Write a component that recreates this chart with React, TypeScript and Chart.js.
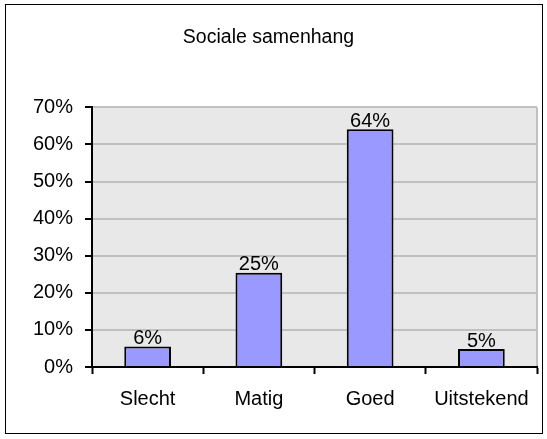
import React, { useEffect, useRef } from "react";
import { Chart, registerables } from "chart.js";

Chart.register(...registerables);

const TITLE = "Sociale samenhang";
const categories = ["Slecht", "Matig", "Goed", "Uitstekend"];
const values = [5.5, 25.4, 64.1, 4.85];
const yTicks = [0, 10, 20, 30, 40, 50, 60, 70];

const FONT = "'Liberation Sans', Arial, sans-serif";
const FS = 20;

const plotBg = {
  id: "plotBg",
  beforeDraw(chart: any) {
    const { ctx, chartArea: a } = chart;
    ctx.save();
    ctx.fillStyle = "#e8e8e8";
    ctx.fillRect(a.left, a.top, a.right - a.left, a.bottom - a.top);
    ctx.strokeStyle = "#c0c0c0";
    ctx.lineWidth = 2;
    ctx.beginPath();
    ctx.moveTo(a.right, a.top);
    ctx.lineTo(a.right, a.bottom);
    ctx.stroke();
    ctx.restore();
  },
};

const dataLabels = {
  id: "dataLabels",
  afterDatasetsDraw(chart: any) {
    const { ctx } = chart;
    const meta = chart.getDatasetMeta(0);
    ctx.save();
    ctx.font = `${FS}px ${FONT}`;
    ctx.fillStyle = "#000";
    ctx.textAlign = "center";
    ctx.textBaseline = "bottom";
    meta.data.forEach((el: any, i: number) => {
      const v = values[i];
      ctx.fillText(`${Math.round(v)}%`, el.x, el.y + 2);
    });
    ctx.restore();
  },
};

export default function App() {
  const ref = useRef<HTMLCanvasElement | null>(null);
  useEffect(() => {
    if (!ref.current) return;
    const chart = new Chart(ref.current, {
      type: "bar",
      data: {
        labels: categories,
        datasets: [
          {
            data: values,
            backgroundColor: "#9999ff",
            borderColor: "#000",
            borderWidth: 2,
            borderSkipped: "bottom",
            barPercentage: 0.42,
            categoryPercentage: 1,
          },
        ],
      },
      options: {
        animation: false,
        responsive: false,
        maintainAspectRatio: false,
        layout: { padding: { left: 0, right: 10, top: 12, bottom: 22 } },
        plugins: {
          legend: { display: false },
          tooltip: { enabled: false },
          title: {
            display: true,
            text: TITLE,
            color: "#000",
            font: { family: FONT, size: 19.5, weight: "normal" },
            padding: { top: 14, bottom: 58 },
          },
        },
        scales: {
          x: {
            offset: true,
            grid: {
              offset: true,
              drawOnChartArea: false,
              tickColor: "#000",
              tickLength: 7,
              tickWidth: 2,
            },
            border: { color: "#000", width: 2 },
            ticks: {
              color: "#000",
              font: { family: FONT, size: FS },
              padding: 13,
              maxRotation: 0,
            },
            afterFit(scale: any) {
              scale.height = 50;
            },
          },
          y: {
            min: 0,
            max: 70,
            afterBuildTicks(scale: any) {
              scale.ticks = yTicks.map((v) => ({ value: v }));
            },
            grid: {
              color: "#c0c0c0",
              lineWidth: 2,
              tickColor: "#000",
              tickLength: 7,
              tickWidth: 2,
            },
            border: { color: "#000", width: 2 },
            ticks: {
              color: "#000",
              font: { family: FONT, size: FS },
              padding: 12,
              callback: (v: any) => `${v}%`,
            },
            afterFit(scale: any) {
              scale.width = 92;
            },
          },
        },
      },
      plugins: [plotBg, dataLabels],
    });
    return () => chart.destroy();
  }, []);

  return (
    <div style={{ position: "fixed", left: 0, top: 0, width: 547, height: 439, background: "#fff" }}>
      <div
        style={{
          position: "absolute",
          left: 5,
          top: 4,
          width: 536,
          height: 428,
          border: "1px solid #000",
          pointerEvents: "none",
        }}
      />
      <canvas ref={ref} width={547} height={439} style={{ position: "absolute", left: 0, top: 0 }} />
    </div>
  );
}
